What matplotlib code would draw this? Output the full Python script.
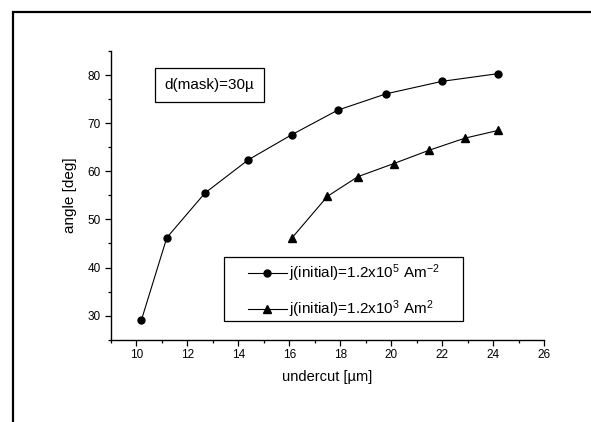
import numpy as np
import matplotlib.pyplot as plt
from matplotlib.patches import Rectangle
from matplotlib.ticker import MultipleLocator

plt.rcParams['font.family'] = ['Liberation Sans', 'DejaVu Sans']
plt.rcParams['mathtext.fontset'] = 'custom'
plt.rcParams['mathtext.rm'] = 'Liberation Sans'
plt.rcParams['mathtext.it'] = 'Liberation Sans:italic'

# series
undercut_hi = [10.2, 11.2, 12.7, 14.4, 16.1, 17.9, 19.8, 22.0, 24.2]
angle_hi = [29.0, 46.2, 55.5, 62.4, 67.6, 72.7, 76.1, 78.7, 80.3]
undercut_lo = [16.1, 17.5, 18.7, 20.1, 21.5, 22.9, 24.2]
angle_lo = [46.1, 54.8, 58.9, 61.6, 64.4, 66.9, 68.5]

label_hi = r'j(initial)=1.2x10$^5$ Am$^{-2}$'
label_lo = r'j(initial)=1.2x10$^3$ Am$^2$'

W, H = 591, 422
ax_l, ax_b, ax_w, ax_h = 110.7, 339.7, 433.5, 288.7

fig = plt.figure(figsize=(W / 100, H / 100), dpi=100)
ax = fig.add_axes([ax_l / W, 1 - ax_b / H, ax_w / W, ax_h / H])

ax.plot(undercut_hi, angle_hi, '-o', color='black', lw=0.8, ms=5, label=label_hi)
ax.plot(undercut_lo, angle_lo, '-^', color='black', lw=0.8, ms=5.5, label=label_lo)

ax.set_xlim(9, 26)
ax.set_ylim(25, 85)
ax.xaxis.set_major_locator(MultipleLocator(2))
ax.xaxis.set_minor_locator(MultipleLocator(1))
ax.yaxis.set_major_locator(MultipleLocator(10))
ax.yaxis.set_minor_locator(MultipleLocator(5))
ax.spines['top'].set_visible(False)
ax.spines['right'].set_visible(False)
for s in ('left', 'bottom'):
    ax.spines[s].set_linewidth(1.0)
ax.tick_params(which='major', direction='out', length=4, width=0.9, labelsize=8.5, pad=3)
ax.tick_params(which='minor', direction='out', length=2.5, width=0.9)

ax.set_xlabel('undercut [µm]', fontsize=10.5, labelpad=6)
ax.set_ylabel('angle [deg]', fontsize=11, labelpad=8)

ax.text(0.228, 0.8815, 'd(mask)=30µ', transform=ax.transAxes, fontsize=11,
        ha='center', va='center',
        bbox=dict(boxstyle='square,pad=0.65', fc='white', ec='black', lw=0.9))

# legend box drawn separately so its padding matches the reference
box_x0, box_x1, box_y0, box_y1 = 224.3, 463.3, 257.3, 320.7
ax.add_patch(Rectangle(((box_x0 - ax_l) / ax_w, (ax_b - box_y1) / ax_h),
                       (box_x1 - box_x0) / ax_w, (box_y1 - box_y0) / ax_h,
                       transform=ax.transAxes, fc='white', ec='black', lw=0.9,
                       zorder=4))
leg = ax.legend(loc='center', bbox_to_anchor=(0.5377, 0.167), fontsize=11,
                frameon=False, handlelength=2.55, handletextpad=0.15,
                borderpad=0, labelspacing=0.95, borderaxespad=0)
leg.set_zorder(5)

# outer frame of the original figure, cropped at right and bottom
fig.patches.append(Rectangle((13 / W, -0.1), 1.2, 1 - 12 / H + 0.1,
                             transform=fig.transFigure, fill=False,
                             ec='black', lw=1.6))

fig.savefig('out.png', dpi=100)
